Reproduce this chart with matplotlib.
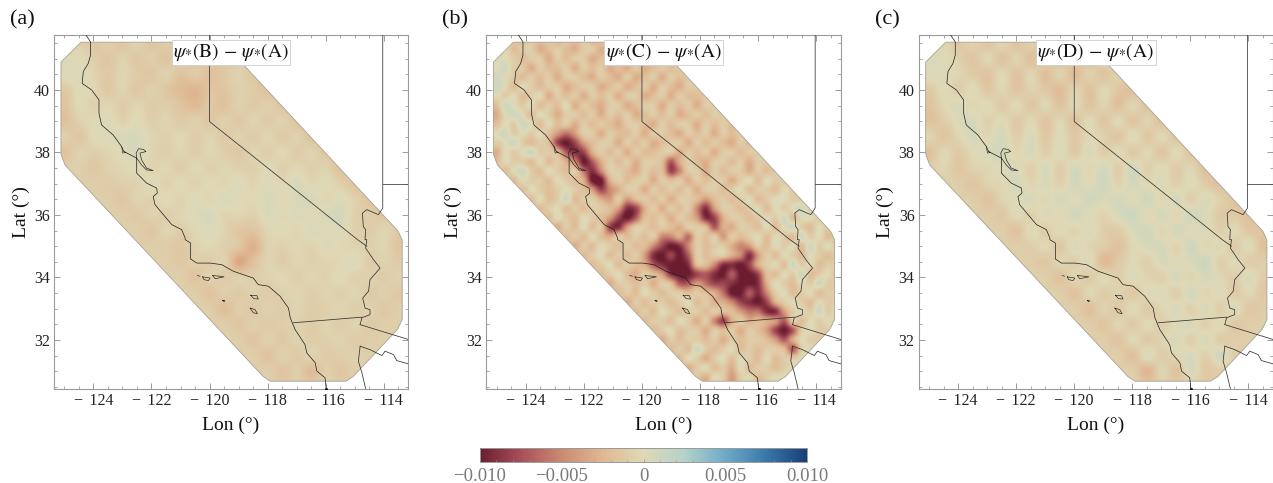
import numpy as np
import matplotlib
matplotlib.use("Agg")
import matplotlib.pyplot as plt
from matplotlib.colors import LinearSegmentedColormap, Normalize
from matplotlib.patches import Polygon
from matplotlib.ticker import MultipleLocator

plt.rcParams['font.family'] = ['Liberation Serif', 'DejaVu Serif']
plt.rcParams['mathtext.fontset'] = 'stix'

panel_letters = ['(a)', '(b)', '(c)']
panel_titles = [r'$\psi_{*}(\mathrm{B})\,-\,\psi_{*}(\mathrm{A})$',
                r'$\psi_{*}(\mathrm{C})\,-\,\psi_{*}(\mathrm{A})$',
                r'$\psi_{*}(\mathrm{D})\,-\,\psi_{*}(\mathrm{A})$']
lon_ticks = [-124, -122, -120, -118, -116, -114]
lat_ticks = [32, 34, 36, 38, 40]
cbar_ticks = [-0.01, -0.005, 0, 0.005, 0.01]
cbar_labels = ['\u22120.010', '\u22120.005', '0', '0.005', '0.010']

# study region outline (lon, lat)
region_lon = [-124.43, -119.55, -113.5, -113.36, -113.36, -113.53, -115.05, -115.3, -117.91, -118.15, -124.98, -125.12, -125.12]
region_lat = [41.53, 41.53, 35.48, 35.2, 32.65, 32.33, 30.83, 30.68, 30.68, 30.83, 37.6, 37.95, 40.89]

# coast and borders
coast_lon = [-124.26,-124.10,-124.10,-124.18,-124.35,-124.39,-124.06,-123.81,-123.81,-123.72,-123.32,-123.03,-122.95,-122.51,-122.51,-122.17,-121.82,-121.80,-121.94,-121.88,-121.30,-120.96,-120.84,-120.84,-120.65,-120.65,-120.44,-119.98,-119.58,-119.18,-118.49,-118.32,-117.97,-117.57,-117.28,-117.22,-117.05,-116.71,-116.65,-116.36,-116.30,-116.02,-115.98]
coast_lat = [41.76,41.54,41.12,40.85,40.59,40.21,40.0,39.68,39.25,38.88,38.56,38.19,38.03,37.82,37.34,37.02,36.86,36.70,36.59,36.33,35.69,35.53,35.26,35.21,35.10,34.59,34.46,34.46,34.41,34.20,33.98,33.77,33.72,33.40,33.02,32.71,32.33,31.85,31.59,31.27,31.0,30.79,30.44]
bay_lon = [-122.51,-122.53,-122.45,-122.28,-122.19,-122.40,-122.34,-122.17,-121.94,-122.17,-122.34,-122.51]
bay_lat = [37.82,37.98,38.12,38.10,38.03,37.98,37.76,37.50,37.42,37.44,37.60,37.82]
reyes_lon = [-123.03,-122.99,-122.88,-122.95]
reyes_lat = [38.19,37.98,38.0,38.03]
ca_border_lon = [-120,-120,-115.33,-114.90,-114.58]
ca_border_lat = [41.76,38.99,35.53,35.21,35.0]
river_lon = [-114.03,-114.03,-114.18,-114.58,-114.73,-114.70,-114.62,-114.64,-114.58,-114.62,-114.35,-114.12,-114.47,-114.52,-114.72,-114.64,-114.47,-114.47,-114.75,-114.81]
river_lat = [41.76,36.22,36.01,36.17,36.06,35.63,35.53,35.21,35.21,34.94,34.57,34.30,33.93,33.56,33.34,33.02,32.97,32.81,32.71,32.49]
ca_mex_lon = [-117.11,-114.75]
ca_mex_lat = [32.55,32.73]
az_mex_lon = [-114.81,-113.13]
az_mex_lat = [32.49,32.01]
ut_lon = [-114.03,-113.13]
ut_lat = [36.99,36.99]
gulf_lon = [-114.81,-114.87,-114.75,-114.62]
gulf_lat = [31.80,31.32,30.95,30.44]
sonora_lon = [-114.81,-114.47,-114.06,-113.95,-113.66,-113.55,-113.13]
sonora_lat = [31.80,31.69,31.50,31.64,31.53,31.34,31.23]
islands = [
    ([-120.42,-120.33], [34.06,34.04]),
    ([-120.24,-119.98,-120.04,-120.19,-120.24], [34.02,33.98,33.90,33.93,34.02]),
    ([-119.89,-119.64,-119.50,-119.81,-119.89], [34.06,34.04,34.02,33.96,34.06]),
    ([-118.58,-118.37,-118.32,-118.47,-118.58], [33.43,33.42,33.31,33.32,33.43]),
    ([-118.60,-118.43,-118.35,-118.49,-118.60], [33.02,32.97,32.84,32.87,33.02]),
    ([-119.55,-119.47,-119.50,-119.55], [33.27,33.26,33.22,33.27]),
]

# coarse 0.5 degree reading of panels (a), (c), in units of 1e-4
coarse_lon = [-125.5 + 0.5 * k for k in range(26)]
coarse_lat = [42 - 0.5 * k for k in range(24)]
psi_BA = [
[-8,-8,-8,-8,-8,-8,-8,-8,-8,-8,-8,-8,-8,-8,-8,-8,-8,-8,-8,-8,-8,-8,-8,-8,-8,-8],
[-8,-8,-6,-13,-7,-14,-4,-15,-9,-14,-5,-12,-14,-7,-8,-8,-8,-8,-8,-8,-8,-8,-8,-8,-8,-8],
[1,1,0,-8,-14,-5,-13,-7,-16,-6,-15,-10,-14,-6,-8,-8,-8,-8,-8,-8,-8,-8,-8,-8,-8,-8],
[1,2,3,-4,-12,-3,-10,-14,-5,-16,-10,-18,-12,-5,-14,-8,-8,-8,-8,-8,-8,-8,-8,-8,-8,-8],
[-6,-12,0,-2,-12,-4,-13,-6,-14,-22,-26,-16,-15,-6,-10,-17,-8,-8,-8,-8,-8,-8,-8,-8,-8,-8],
[-8,-16,-1,-6,-2,-9,-3,-10,-8,-15,-22,-13,-17,-6,-11,-6,-15,-8,-8,-8,-8,-8,-8,-8,-8,-8],
[-7,-18,-6,-1,2,-6,1,-8,-4,-11,-6,-13,-6,-12,-4,-10,-5,-16,-8,-8,-8,-8,-8,-8,-8,-8],
[-8,-6,-14,0,3,4,5,-3,-7,-2,-9,-4,-11,-5,-10,-3,-11,-5,-16,-8,-8,-8,-8,-8,-8,-8],
[-15,-17,-5,-8,-4,1,6,-4,-8,-3,-9,-2,-8,-12,-3,-8,-1,-10,-4,-13,-8,-8,-8,-8,-8,-8],
[-8,-8,-7,-13,-6,-3,0,-5,-2,-9,-1,-7,-3,-6,-8,0,-7,-2,-8,-5,-17,-8,-8,-8,-8,-8],
[-8,-8,-8,-8,-10,-7,-5,3,-6,0,-6,1,-3,2,-4,3,-2,5,-3,1,-7,-15,-8,-8,-8,-8],
[-8,-8,-8,-8,-8,-14,-4,-6,1,-5,2,-3,4,1,-2,5,-1,4,6,-3,3,-6,-14,-8,-8,-8],
[-8,-8,-8,-8,-8,-8,-11,-5,-8,-3,3,5,-4,-3,-6,4,-2,3,-1,4,7,-7,-9,-12,-5,-8],
[-8,-8,-8,-8,-8,-8,-8,-14,-3,-8,-2,3,-4,-14,-15,-3,1,-3,4,-1,2,-6,-9,-3,-11,-8],
[-8,-8,-8,-8,-8,-8,-8,-8,-10,-13,-5,-2,-7,-13,-28,-5,-6,-2,-5,2,-2,-4,-7,-3,-15,-8],
[-8,-8,-8,-8,-8,-8,-8,-8,-8,-12,-8,-9,-5,-34,-18,-4,-9,-3,-6,-4,-2,3,-9,-5,-10,-8],
[-8,-8,-8,-8,-8,-8,-8,-8,-8,-8,-15,-6,-10,-6,-8,-5,-2,-7,-3,-6,1,-7,-6,-9,-5,-8],
[-8,-8,-8,-8,-8,-8,-8,-8,-8,-8,-8,-16,-7,-11,-5,-10,-6,-3,-8,-4,-7,-3,-11,-6,-13,-8],
[-8,-8,-8,-8,-8,-8,-8,-8,-8,-8,-8,-8,-19,-8,-12,-6,-10,-4,-9,-7,-3,-8,-5,-12,-8,-8],
[-8,-8,-8,-8,-8,-8,-8,-8,-8,-8,-8,-8,-8,-14,-7,-11,-8,-6,-10,-4,-9,-4,-11,-8,-8,-8],
[-8,-8,-8,-8,-8,-8,-8,-8,-8,-8,-8,-8,-8,-8,-15,-6,-12,-5,-9,-7,-5,-10,-8,-8,-8,-8],
[-8,-8,-8,-8,-8,-8,-8,-8,-8,-8,-8,-8,-8,-8,-8,-17,-6,-11,-4,-10,-8,-6,-8,-8,-8,-8],
[-8,-8,-8,-8,-8,-8,-8,-8,-8,-8,-8,-8,-8,-8,-8,-8,-16,-8,-22,-7,-14,-8,-8,-8,-8,-8],
[-8,-8,-8,-8,-8,-8,-8,-8,-8,-8,-8,-8,-8,-8,-8,-8,-8,-8,-8,-8,-8,-8,-8,-8,-8,-8],
]
psi_DA = [
[-8,-8,-8,-8,-8,-8,-8,-8,-8,-8,-8,-8,-8,-8,-8,-8,-8,-8,-8,-8,-8,-8,-8,-8,-8,-8],
[-8,-8,-3,-12,-5,-15,-2,-16,-6,-17,-3,-13,-9,-13,-8,-8,-8,-8,-8,-8,-8,-8,-8,-8,-8,-8],
[1,2,0,-6,-14,-2,-16,-4,-18,-6,-20,-7,-17,-3,-8,-8,-8,-8,-8,-8,-8,-8,-8,-8,-8,-8],
[0,2,3,-3,-10,-15,-1,-16,-3,-19,-5,-21,-6,-16,-4,-8,-8,-8,-8,-8,-8,-8,-8,-8,-8,-8],
[-5,-11,0,-8,1,-13,-2,-15,-5,-12,-20,-4,-17,-2,-14,-18,-8,-8,-8,-8,-8,-8,-8,-8,-8,-8],
[-8,-16,-2,4,-3,1,-11,0,-14,-2,-16,-1,-15,-4,-18,-3,-16,-8,-8,-8,-8,-8,-8,-8,-8,-8],
[-3,-17,-9,2,5,-7,2,-12,-1,-15,-2,-17,0,-14,-1,-15,-4,-18,-8,-8,-8,-8,-8,-8,-8,-8],
[-2,-4,-15,-3,6,-2,7,-8,3,-12,1,-13,-2,-6,-14,2,-13,-1,-15,-8,-8,-8,-8,-8,-8,-8],
[-13,-18,-2,-11,-1,4,6,-3,5,-8,3,-12,5,-9,1,-11,-2,-14,0,-14,-8,-8,-8,-8,-8,-8],
[-8,-8,-3,-14,-5,-3,3,2,-7,5,-9,7,-3,6,-8,8,-7,1,-10,-3,-18,-8,-8,-8,-8,-8],
[-8,-8,-8,-8,-15,-5,-2,6,-4,4,-6,8,1,9,-5,7,-2,3,-7,1,-10,-17,-8,-8,-8,-8],
[-8,-8,-8,-8,-8,-16,-4,1,5,-3,6,0,9,3,7,1,9,-3,6,-8,4,-6,-15,-8,-8,-8],
[-8,-8,-8,-8,-8,-8,-12,0,-7,4,-2,8,1,-5,5,10,-2,7,-3,8,2,-11,-11,-18,-3,-8],
[-8,-8,-8,-8,-8,-8,-8,-17,2,-9,1,-5,3,-8,-9,3,8,-4,7,0,3,-7,-1,-13,-13,-8],
[-8,-8,-8,-8,-8,-8,-8,-8,-8,-1,-12,4,-4,-9,-17,-2,4,6,-5,9,-3,3,-10,1,-18,-8],
[-8,-8,-8,-8,-8,-8,-8,-8,-8,-13,-3,-8,3,-23,-12,-1,-7,5,0,4,11,-7,0,-9,-8,-8],
[-8,-8,-8,-8,-8,-8,-8,-8,-8,-8,-16,-2,-11,0,-8,3,-4,-7,6,-4,6,-2,-8,4,-9,-8],
[-8,-8,-8,-8,-8,-8,-8,-8,-8,-8,-8,-17,-1,-10,-4,-12,1,3,-8,8,-4,3,-10,-2,-13,-8],
[-8,-8,-8,-8,-8,-8,-8,-8,-8,-8,-8,-8,-18,-5,-13,1,-11,-3,4,-7,5,-8,4,-13,-8,-8],
[-8,-8,-8,-8,-8,-8,-8,-8,-8,-8,-8,-8,-8,-15,-3,-11,-1,-8,1,5,-7,2,-12,-8,-8,-8],
[-8,-8,-8,-8,-8,-8,-8,-8,-8,-8,-8,-8,-8,-8,-15,-1,-11,-4,4,-8,5,-9,-8,-8,-8,-8],
[-8,-8,-8,-8,-8,-8,-8,-8,-8,-8,-8,-8,-8,-8,-8,-18,3,-9,-2,5,-7,8,-8,-8,-8,-8],
[-8,-8,-8,-8,-8,-8,-8,-8,-8,-8,-8,-8,-8,-8,-8,-8,-26,-3,-17,5,-12,-8,-8,-8,-8,-8],
[-8,-8,-8,-8,-8,-8,-8,-8,-8,-8,-8,-8,-8,-8,-8,-8,-8,-8,-8,-8,-8,-8,-8,-8,-8,-8],
]

# finer 0.3 degree reading of panel (b), in units of 1e-3
fine_lon = [-125.3 + 0.3 * k for k in range(41)]
fine_lat = [41.6 - 0.3 * k for k in range(37)]
psi_CA = [
[-1,-1,-1,-1,-2,-1,-2,-1,-3,-1,-2,-1,-3,-1,-2,-3,-1,-2,-1,-1,-1],
[-1,-1,0,-2,-1,-1,-3,-2,-1,-2,-3,-1,-1,-3,-2,-1,-3,-1,-2,-2,-1],
[0,0,0,-1,-2,-1,-1,-3,-1,-2,-1,-1,-3,-2,-1,-3,-1,-2,-3,-1,-2,-1],
[0,0,1,-1,-1,-3,-1,-2,-2,-1,-3,-1,-2,-1,-3,-2,-3,-1,-3,-2,-1,-2,-1],
[0,1,0,-1,-2,-1,-2,-1,-3,-1,-1,-2,-3,-1,-2,-3,-1,-3,-2,-1,-3,-1,-2,-1],
[-1,1,0,-2,0,-1,-2,-1,-1,-3,-2,-1,-1,-3,-2,-1,-3,-2,-1,-3,-1,-2,-3,-1,-1],
[-1,0,-1,0,-2,-1,0,-3,-1,-2,-1,-3,-1,-2,-1,-3,-1,-1,-3,-2,-1,-3,-1,-2,-2,-1],
[-2,-2,1,0,-1,0,-2,-1,-2,0,-3,-1,-2,-3,-1,-1,-3,-2,-1,-1,-3,-1,-2,-1,-3,-1,-1],
[-3,-3,0,1,0,-2,0,-1,-3,-1,-1,-2,-1,-3,-1,-2,-1,-3,-2,-1,-2,-1,-3,-2,-1,-2,-1,-1],
[-1,-2,0,-1,1,0,-2,0,-2,-1,-3,-1,-2,-1,-2,-3,-1,-1,-2,-3,-1,-2,-1,-1,-3,-1,-2,-1,-2],
[0,0,1,-1,0,-1,0,-2,-4,-6,-4,-1,-1,-3,-1,-2,-2,-1,-3,-1,-1,-2,-3,-1,-2,-1,-3,-1,-2,-1],
[0,-1,0,1,-1,-2,-1,-2,-8,-10,-8,-4,-2,-1,-1,-3,-1,-2,-1,-3,-2,-1,-1,-3,-1,-2,-1,-2,-3,-1,-2],
[-2,-3,0,-1,0,1,-1,-1,-2,-7,-9,-8,-3,-1,-2,-1,-3,-1,-2,-2,-1,-1,-3,-1,-2,-1,-3,-1,-1,-2,-1,-1],
[-1,-2,0,-1,-1,-2,0,-2,-1,-3,-5,-10,-7,-3,-1,-2,-1,-3,-1,-1,-2,-7,-3,-1,-2,-3,-1,-1,-2,-1,-3,-1,-1],
[0,0,-2,0,1,-1,-2,0,-1,-2,-1,-6,-9,-5,-1,-1,-2,-3,-1,-2,-2,-8,-5,-1,-1,-3,-1,-2,-1,-1,-3,-1,-2,-1],
[0,0,0,-2,0,-1,-1,-2,0,-1,-2,-3,-10,-10,-3,-1,-2,-1,-1,-3,-1,-2,-1,-3,-1,-2,-1,-1,-3,-1,0,-2,0,-1,-1],
[0,0,0,0,-2,0,-1,-2,-1,0,-1,-2,-4,-8,-5,-3,-1,-1,-3,-1,-2,-1,-2,-1,-3,-1,-1,-2,-1,0,-2,-1,-1,-2,0,-1],
[0,0,0,0,0,-2,0,-2,-1,1,-2,-1,-1,-3,-4,-1,-4,-2,-1,-2,-1,-3,-1,-1,-2,-4,-2,-1,-2,-1,0,-2,-1,0,0,-1,-1],
[0,0,0,0,0,0,-2,-1,0,-2,-1,-2,-1,-1,-2,-4,-9,-8,-3,-1,-3,-1,-2,-1,-5,-9,-4,-1,-1,-2,-1,0,-2,0,-1,0,1,-1],
[0,0,0,0,0,0,0,-2,0,-1,-2,0,-1,-2,-4,-8,-10,-7,-2,-2,-1,-3,-1,-2,-4,-9,-8,-3,-1,-1,-2,-1,0,-1,1,-2,0,0,-1],
[0,0,0,0,0,0,0,0,-3,-1,-2,0,-2,-1,-8,-9,-4,-1,-1,-2,-1,-2,-3,-1,-1,-2,-7,-3,-3,-1,-1,-2,0,-2,0,1,-1,-2,0,-1],
[0,0,0,0,0,0,0,0,0,-2,-1,-2,0,-2,-3,-1,-2,-1,-2,-1,-5,-5,-3,-6,-1,-2,-1,-4,-1,-2,-1,0,-2,0,-1,-2,1,-1,0,-2,-1],
[0,0,0,0,0,0,0,0,0,0,-3,-1,-2,0,-1,-2,-1,-2,-2,-5,-8,-10,-9,-5,-1,-2,-1,-1,-3,-5,-4,-1,-2,0,-1,0,-2,1,-1,0,-1],
[0,0,0,0,0,0,0,0,0,0,0,-2,-1,0,-2,-1,-2,-1,-4,-9,-10,-8,-10,-7,-1,-2,-1,-1,-3,-5,-9,-4,-1,-2,0,-1,-2,0,-1,-2,-1],
[0,0,0,0,0,0,0,0,0,0,0,0,-2,-1,0,-2,-1,-2,-3,-7,-9,-10,-10,-9,-2,-2,-5,-9,-9,-10,-8,-3,-1,0,-2,1,-1,0,-2,-1,-1],
[0,0,0,0,0,0,0,0,0,0,0,0,0,-2,-1,0,-2,-3,-1,-2,-4,-9,-10,-10,-8,-7,-9,-10,-7,-10,-10,-8,-2,-2,0,-1,1,-2,-1,0,-2],
[0,0,0,0,0,0,0,0,0,0,0,0,0,0,-3,-1,-1,-2,-1,-3,-1,-2,-7,-7,-4,-6,-8,-8,-9,-10,-10,-9,-3,0,-1,-2,0,-1,1,-1,-1],
[0,0,0,0,0,0,0,0,0,0,0,0,0,0,0,-2,-1,-2,0,-1,-2,-1,-1,-2,-1,-2,-3,-6,-10,-10,-7,-9,-5,-1,0,-2,-1,0,-2,-1,-1],
[0,0,0,0,0,0,0,0,0,0,0,0,0,0,0,0,-3,-1,-2,-1,-1,-2,-1,0,-2,-1,-3,-3,-5,-8,-9,-10,-8,-3,-1,0,-1,-2,0,-1,-1],
[0,0,0,0,0,0,0,0,0,0,0,0,0,0,0,0,0,-2,-1,-2,0,-1,-2,-1,-1,-2,-1,-2,-2,-4,-6,-6,-9,-9,-4,-1,0,-1,1,-1,0],
[0,0,0,0,0,0,0,0,0,0,0,0,0,0,0,0,0,0,-2,-1,-1,-2,0,-1,-3,-1,-5,-8,-3,-1,-3,-2,-3,-4,-7,-1,-2,0,-1,0,-1],
[0,0,0,0,0,0,0,0,0,0,0,0,0,0,0,0,0,0,0,-2,-1,0,-2,-1,-1,-3,-1,-2,-1,-3,-1,-2,-4,-8,-10,-7,-1,0,-1,-1],
[0,0,0,0,0,0,0,0,0,0,0,0,0,0,0,0,0,0,0,0,-3,-1,-2,-1,-1,-2,-1,-3,-1,-2,-1,-1,-2,-4,-7,-3,0,-1,-1],
[0,0,0,0,0,0,0,0,0,0,0,0,0,0,0,0,0,0,0,0,0,-2,-1,-2,1,-1,-2,-1,0,-2,-1,-2,-1,-1,-2,-7,-1,0],
[0,0,0,0,0,0,0,0,0,0,0,0,0,0,0,0,0,0,0,0,0,0,-2,0,-1,-3,-1,0,-2,0,-1,-2,0,-2,-1,-1,0],
[0,0,0,0,0,0,0,0,0,0,0,0,0,0,0,0,0,0,0,0,0,0,0,-3,-1,0,-2,-1,-3,0,-2,-1,-1,-2,-1,0],
[0,0,0,0,0,0,0,0,0,0,0,0,0,0,0,0,0,0,0,0,0,0,0,0,-1,-3,0,-1,-4,-1,0,-2,-1,0,0],
]

cmap_values = [-0.010, -0.0075, -0.005, -0.0025, 0, 0.0025, 0.005, 0.0075, 0.010]
cmap_colors = ['#6b1d2f', '#a8505a', '#cb8a72', '#e0b893', '#dfd9b6', '#b5d2c9', '#6fa9c8', '#3a78aa', '#173f78']


def rect(fig_w, fig_h, x0, y0, x1, y1):
    return [x0 / fig_w, 1 - y1 / fig_h, (x1 - x0) / fig_w, (y1 - y0) / fig_h]


W, H = 1273, 483
fig = plt.figure(figsize=(W / 100, H / 100), dpi=100)
norm = Normalize(-0.01, 0.01)
stops = [(v + 0.01) / 0.02 for v in cmap_values]
cmap = LinearSegmentedColormap.from_list('psi', list(zip(stops, cmap_colors)), N=512)

GRAY = '#9a9a9a'
panels = [
    (np.array(psi_BA) * 1e-4, coarse_lon, coarse_lat),
    (np.array([(r + [0] * 41)[:41] for r in psi_CA]) * 1e-3, fine_lon, fine_lat),
    (np.array(psi_DA) * 1e-4, coarse_lon, coarse_lat),
]
lefts = [54.0, 486.4, 918.7]
for k, (field, lons, lats) in enumerate(panels):
    x0 = lefts[k]
    ax = fig.add_axes(rect(W, H, x0, 35, x0 + 354.3, 389))
    dx = abs(lons[1] - lons[0]) / 2
    dy = abs(lats[1] - lats[0]) / 2
    im = ax.imshow(field, cmap=cmap, norm=norm, origin='upper', aspect='auto',
                   interpolation='catrom',
                   extent=[lons[0] - dx, lons[-1] + dx, lats[-1] - dy, lats[0] + dy], zorder=1)
    poly = Polygon(np.column_stack([region_lon, region_lat]), closed=True, transform=ax.transData,
                   fc='none', ec='#a8a294', lw=0.6, zorder=2)
    ax.add_patch(poly)
    im.set_clip_path(poly)
    ax.set_xlim(-125.36, -113.15)
    ax.set_ylim(30.43, 41.76)

    for (xs, ys), c, lw in [
        ((coast_lon, coast_lat), '#1c1c1c', 0.5), ((bay_lon, bay_lat), '#1c1c1c', 0.45),
        ((reyes_lon, reyes_lat), '#1c1c1c', 0.4),
        ((ca_border_lon, ca_border_lat), '#333333', 0.55), ((river_lon, river_lat), '#333333', 0.55),
        ((ca_mex_lon, ca_mex_lat), '#333333', 0.55), ((az_mex_lon, az_mex_lat), '#333333', 0.55),
        ((ut_lon, ut_lat), '#444444', 0.6), ((gulf_lon, gulf_lat), '#333333', 0.55),
        ((sonora_lon, sonora_lat), '#333333', 0.55),
    ]:
        ax.plot(xs, ys, color=c, lw=lw, zorder=3, solid_joinstyle='round')
    for xs, ys in islands:
        ax.plot(xs, ys, color='#1c1c1c', lw=0.45, zorder=3)
    ax.plot([coast_lon[-1]], [coast_lat[-1]], 'o', color='#111111', ms=2.2, mew=0, zorder=3)

    ax.set_xticks(lon_ticks)
    ax.set_yticks(lat_ticks)
    ax.set_xticklabels([f'\u2212\u2009\u2009{abs(v)}' for v in lon_ticks])
    ax.xaxis.set_minor_locator(MultipleLocator(0.5))
    ax.yaxis.set_minor_locator(MultipleLocator(0.5))
    ax.tick_params(which='major', direction='in', length=4.5, width=0.7, color=GRAY,
                   top=True, right=True, labelsize=11.5, labelcolor='#222222', pad=3)
    ax.tick_params(which='minor', direction='in', length=2.4, width=0.6, color=GRAY, top=True, right=True)
    for s in ax.spines.values():
        s.set_color(GRAY)
        s.set_linewidth(0.8)

    ax.text(0.5, 0.951, panel_titles[k], transform=ax.transAxes, ha='center', va='center',
            fontsize=14, color='#111111', zorder=5,
            bbox=dict(fc='white', ec='#cccccc', lw=0.6, pad=1.0))
    fig.text((x0 + 177) / W, 1 - 425 / H, 'Lon (\u00b0)', ha='center', va='center', fontsize=14, color='#111111')
    fig.text((x0 - 33) / W, 1 - 212 / H, 'Lat (\u00b0)', ha='center', va='center', rotation=90,
             fontsize=14, color='#111111')
    fig.text((x0 - 44) / W, 1 - 20 / H, panel_letters[k], ha='left', va='center', fontsize=16, color='#111111')

cax = fig.add_axes(rect(W, H, 480, 448, 807, 462))
cb = fig.colorbar(plt.cm.ScalarMappable(norm=norm, cmap=cmap), cax=cax, orientation='horizontal')
cb.set_ticks(cbar_ticks)
cb.set_ticklabels(cbar_labels)
cax.xaxis.set_minor_locator(MultipleLocator(0.001))
cax.tick_params(which='major', direction='in', length=2.5, width=0.6, color=GRAY,
                labelsize=13.5, labelcolor='#7a7a7a', pad=4.5, bottom=True)
cax.tick_params(which='minor', direction='in', length=1.2, width=0.5, color=GRAY, bottom=True)
cb.outline.set_edgecolor(GRAY)
cb.outline.set_linewidth(0.7)

fig.savefig('out.png', dpi=100)
